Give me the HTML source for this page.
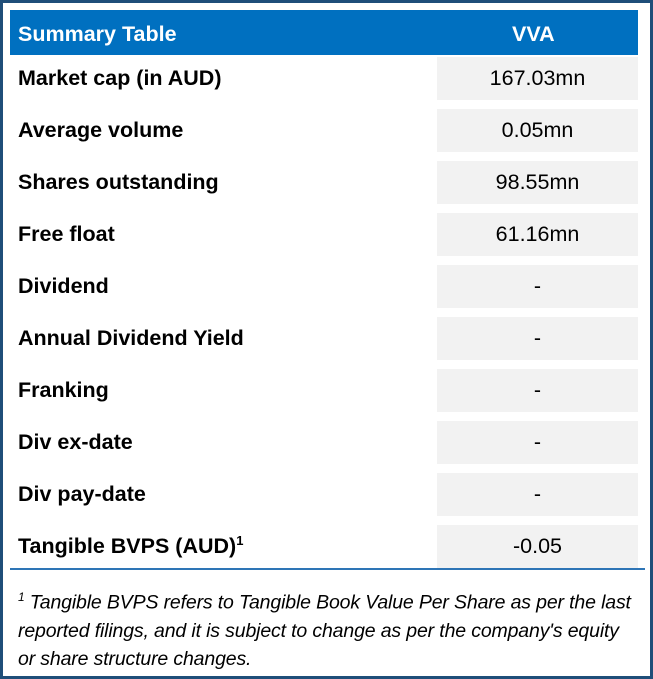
<!DOCTYPE html>
<html><head><meta charset="utf-8"><style>
body{margin:0;width:653px;height:679px;background:#fff;font-family:"Liberation Sans",sans-serif;position:relative;overflow:hidden}
.frame{position:absolute;left:0;top:0;width:647px;height:673px;border:3px solid #1f4e79}
.hdr{position:absolute;left:10px;top:10px;width:628px;height:45px;background:#0070c0;color:#fff;font-weight:bold;font-size:21.5px}
.hdr span{position:absolute;top:12px}
.lab{position:absolute;left:18px;font-weight:bold;font-size:21.5px;color:#000;line-height:43px}
.val{position:absolute;left:437px;width:201px;height:43px;background:#f2f2f2;text-align:center;line-height:43px;font-size:21.5px;color:#000}
.line{position:absolute;left:10px;top:568px;width:635px;height:2px;background:#2e75b6}
.note{position:absolute;left:18px;top:583px;width:630px;font-style:italic;font-size:19.5px;line-height:28px;color:#000;letter-spacing:-0.15px;white-space:nowrap}
</style></head><body>
<div class="frame"></div>
<div class="hdr"><span style="left:8px">Summary Table</span><span style="left:502px">VVA</span></div>
<div id="rows"></div>
<div class="line"></div>
<div class="note"><sup style="font-size:12px">1</sup> Tangible BVPS refers to Tangible Book Value Per Share as per the last<br>reported filings, and it is subject to change as per the company's equity<br>or share structure changes.</div>
<script>
const labels=["Market cap (in AUD)","Average volume","Shares outstanding","Free float","Dividend","Annual Dividend Yield","Franking","Div ex-date","Div pay-date","Tangible BVPS (AUD)"];
const values=["167.03mn","0.05mn","98.55mn","61.16mn","-","-","-","-","-","-0.05"];
const c=document.getElementById('rows');
labels.forEach((l,i)=>{
 const top=57+i*52;
 const a=document.createElement('div');a.className='lab';a.style.top=top+'px';
 a.innerHTML=l+(i===9?'<sup style="font-size:13px;line-height:0">1</sup>':'');
 
 
 c.appendChild(a);
 const v=document.createElement('div');v.className='val';v.style.top=top+'px';v.textContent=values[i];
 
 
 c.appendChild(v);
});
</script>
</body></html>
